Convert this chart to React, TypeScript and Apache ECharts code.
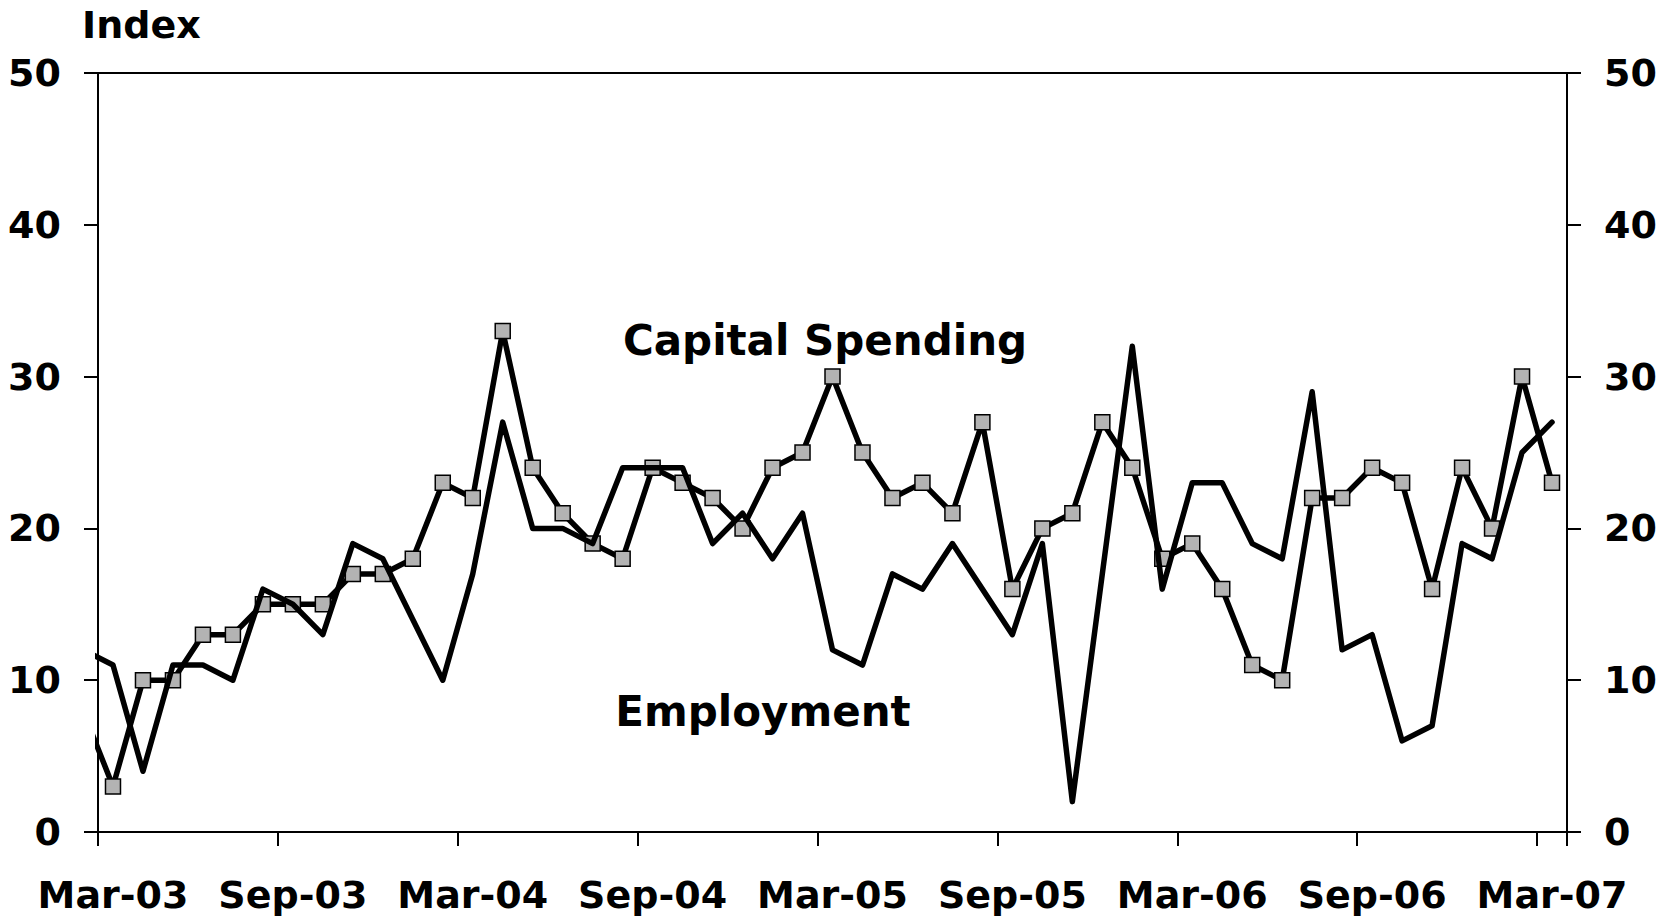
import React, { useEffect, useRef } from 'react';
import * as echarts from 'echarts';

const months = [
  'Feb-03', 'Mar-03', 'Apr-03', 'May-03', 'Jun-03', 'Jul-03', 'Aug-03', 'Sep-03', 'Oct-03', 'Nov-03', 'Dec-03',
  'Jan-04', 'Feb-04', 'Mar-04', 'Apr-04', 'May-04', 'Jun-04', 'Jul-04', 'Aug-04', 'Sep-04', 'Oct-04', 'Nov-04', 'Dec-04',
  'Jan-05', 'Feb-05', 'Mar-05', 'Apr-05', 'May-05', 'Jun-05', 'Jul-05', 'Aug-05', 'Sep-05', 'Oct-05', 'Nov-05', 'Dec-05',
  'Jan-06', 'Feb-06', 'Mar-06', 'Apr-06', 'May-06', 'Jun-06', 'Jul-06', 'Aug-06', 'Sep-06', 'Oct-06', 'Nov-06', 'Dec-06',
  'Jan-07', 'Feb-07', 'Mar-07',
];

const capitalSpending = [
  8,
  3, 10, 10, 13, 13, 15, 15, 15, 17, 17, 18,
  23, 22, 33, 24, 21, 19, 18, 24, 23, 22, 20, 24,
  25, 30, 25, 22, 23, 21, 27, 16, 20, 21, 27, 24,
  18, 19, 16, 11, 10, 22, 22, 24, 23, 16, 24, 20,
  30, 23,
];

const employment = [
  12,
  11, 4, 11, 11, 10, 16, 15, 13, 19, 18, 14,
  10, 17, 27, 20, 20, 19, 24, 24, 24, 19, 21, 18,
  21, 12, 11, 17, 16, 19, 16, 13, 19, 2, 17, 32,
  16, 23, 23, 19, 18, 29, 12, 13, 6, 7, 19, 18,
  25, 27,
];

const yMin = 0;
const yMax = 50;
const yStep = 10;

const FONT = 'DejaVu Sans';

export default function App() {
  const ref = useRef<HTMLDivElement>(null);

  useEffect(() => {
    const chart = echarts.init(ref.current!, null, { renderer: 'svg' });
    const isLabelMonth = (_i: number, v: string) => v.startsWith('Mar') || v.startsWith('Sep');
    const axisText = { color: '#000', fontFamily: FONT, fontWeight: 'bold' as const, fontSize: 38 };
    const yAxisCommon = {
      type: 'value' as const,
      min: yMin,
      max: yMax,
      interval: yStep,
      axisLine: { show: true, lineStyle: { color: '#000', width: 2 } },
      axisTick: { show: true, inside: false, length: 14, lineStyle: { color: '#000', width: 2 } },
      splitLine: { show: false },
      axisLabel: { ...axisText, margin: 37 },
    };
    chart.setOption({
      animation: false,
      backgroundColor: '#fff',
      grid: {
        left: 98,
        right: 100,
        top: 73,
        bottom: 89,
        show: true,
        borderColor: '#000',
        borderWidth: 2,
        containLabel: false,
        outerBoundsMode: 'none',
      },
      xAxis: {
        type: 'category',
        data: months,
        min: 1,
        max: months.length - 1,
        boundaryGap: true,
        axisLine: { show: true, onZero: false, lineStyle: { color: '#000', width: 2 } },
        axisTick: { show: true, inside: false, length: 14, interval: isLabelMonth, alignWithLabel: false, lineStyle: { color: '#000', width: 2 } },
        axisLabel: { ...axisText, interval: isLabelMonth, margin: 44 },
        splitLine: { show: false },
      },
      yAxis: [
        { ...yAxisCommon, position: 'left' },
        { ...yAxisCommon, position: 'right' },
      ],
      series: [
        {
          name: 'Capital Spending',
          type: 'line',
          data: capitalSpending,
          clip: true,
          symbol: 'rect',
          symbolSize: 15,
          showAllSymbol: true,
          lineStyle: { color: '#000', width: 5.5, join: 'round', cap: 'round' },
          itemStyle: { color: '#b3b3b3', borderColor: '#000', borderWidth: 1.5 },
          z: 2,
        },
        {
          name: 'Employment',
          type: 'line',
          data: employment,
          clip: true,
          symbol: 'none',
          lineStyle: { color: '#000', width: 5.5, join: 'round', cap: 'round' },
          z: 3,
        },
      ],
      graphic: [
        {
          type: 'text',
          left: 82,
          top: 6,
          style: { text: 'Index', fill: '#000', font: `bold 38px "${FONT}"` },
        },
        {
          type: 'text',
          x: 825,
          y: 340,
          style: { text: 'Capital Spending', fill: '#000', font: `bold 42px "${FONT}"`, align: 'center', verticalAlign: 'middle' },
        },
        {
          type: 'text',
          x: 763,
          y: 711,
          style: { text: 'Employment', fill: '#000', font: `bold 42px "${FONT}"`, align: 'center', verticalAlign: 'middle' },
        },
      ],
    });
    return () => chart.dispose();
  }, []);

  return (
    <div
      ref={ref}
      style={{ position: 'fixed', left: 0, top: 0, width: 1667, height: 921, background: '#fff' }}
    />
  );
}
